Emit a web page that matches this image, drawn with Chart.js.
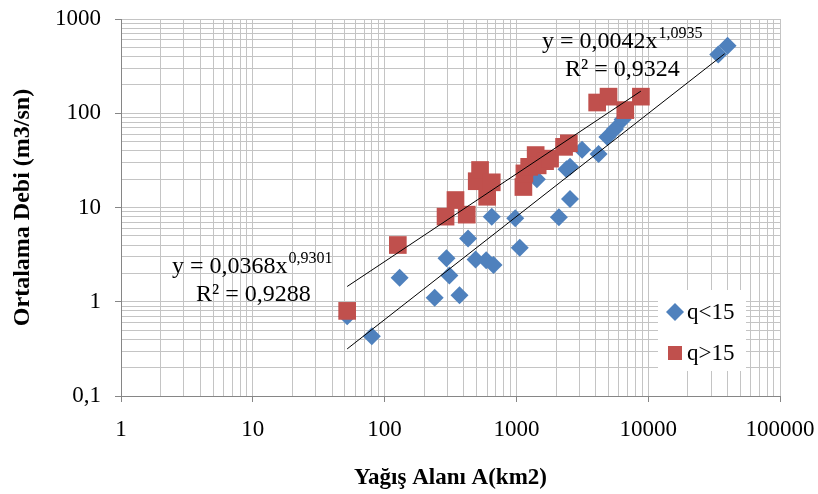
<!DOCTYPE html>
<html>
<head>
<meta charset="utf-8">
<script src="https://cdn.jsdelivr.net/npm/chart.js@4.4.1/dist/chart.umd.min.js"></script>
<style>
	html, body { margin: 0; padding: 0; background: #fff; }
	#wrap { width: 818px; height: 494px; }
</style>
</head>
<body>
<div id="wrap"><canvas id="chart" width="818" height="494"></canvas></div>
<script>
// log axes: decades and the labels printed on them
const xDecades = [1, 10, 100, 1000, 10000, 100000];
const xTickLabels = ['1', '10', '100', '1000', '10000', '100000'];
const yDecades = [0.1, 1, 10, 100, 1000];
const yTickLabels = ['0,1', '1', '10', '100', '1000'];

// q<15 stations: area (km2) and mean flow (m3/sn)
const areaLow = [52, 80, 130, 240, 295, 310, 370, 430, 490, 590, 670, 650, 980, 1060, 1430, 2100, 2550, 2400, 2550, 3150, 4200, 4900, 5600, 6400, 34000, 40000];
const flowLow = [0.7, 0.43, 1.8, 1.1, 2.9, 1.9, 1.17, 4.7, 2.8, 2.75, 2.45, 8, 7.7, 3.75, 20, 7.9, 12.3, 25.5, 27, 41, 37, 56, 68, 86, 420, 520];

// q>15 stations
const areaHigh = [52, 126, 290, 345, 420, 500, 530, 600, 650, 1130, 1150, 1250, 1400, 1450, 1650, 1800, 2300, 2500, 4100, 5000, 6700, 8800];
const flowHigh = [0.8, 4.0, 8, 12, 8.4, 19, 25, 13, 18.5, 16.5, 23, 27, 36, 28, 31, 33, 44, 48, 130, 150, 108, 150];

// power trendlines y = a * x^b
const fitHigh = [0.0368, 0.9301];
const fitHighR2 = 0.9288;
const fitHighRange = [52, 8800];
const fitLow = [0.0042, 1.0935];
const fitLowR2 = 0.9324;
const fitLowRange = [52, 38000];

const seriesNames = ['q<15', 'q>15'];
const blue = '#4F81BD';
const red = '#C0504D';
const serif = '"Liberation Serif", "Times New Roman", serif';

const toPoints = (xs, ys) => xs.map((x, i) => ({ x, y: ys[i] }));
const fitPoints = (coef, range) => range.map((x) => ({ x, y: coef[0] * Math.pow(x, coef[1]) }));
const comma = (v) => String(v).replace('.', ',');

const buildTicks = (decades) => (scale) => {
	const ticks = [];
	decades.slice(0, -1).forEach((d) => {
		for (let m = 1; m <= 9; m += 1) {
			ticks.push({ value: Number((d * m).toPrecision(6)) });
		}
	});
	ticks.push({ value: decades[decades.length - 1] });
	scale.ticks = ticks;
};

const decadeLabel = (decades, labels) => (value) => {
	const i = decades.indexOf(value);
	return i >= 0 ? labels[i] : '';
};

const majorTick = (decades) => (ctx) => (ctx.tick && decades.includes(ctx.tick.value) ? '#868686' : 'rgba(0,0,0,0)');

// let the layout padding alone decide where the plot area sits
const noOverflow = (scale) => {
	scale.paddingLeft = 0;
	scale.paddingRight = 0;
	scale.paddingTop = 0;
	scale.paddingBottom = 0;
};

// equation labels and the boxed legend
const annotations = {
	id: 'annotations',
	afterDraw(chart) {
		const ctx = chart.ctx;
		ctx.save();
		ctx.fillStyle = '#000';
		ctx.textBaseline = 'middle';
		ctx.textAlign = 'left';

		const equation = (coef, r2, x, y, rx) => {
			ctx.font = `24px ${serif}`;
			const base = `y = ${comma(coef[0])}x`;
			ctx.fillText(base, x, y);
			const w = ctx.measureText(base).width;
			ctx.font = `16px ${serif}`;
			ctx.fillText(comma(coef[1]), x + w + 1, y - 8);
			ctx.font = `24px ${serif}`;
			ctx.fillText(`R² = ${comma(r2)}`, rx, y + 28);
		};
		equation(fitHigh, fitHighR2, 172, 267, 196);
		equation(fitLow, fitLowR2, 542, 42, 565);

		// legend box
		ctx.fillStyle = '#fff';
		ctx.fillRect(658, 290, 88, 81);
		ctx.fillStyle = blue;
		ctx.beginPath();
		ctx.moveTo(675, 303);
		ctx.lineTo(684, 312);
		ctx.lineTo(675, 321);
		ctx.lineTo(666, 312);
		ctx.closePath();
		ctx.fill();
		ctx.fillStyle = red;
		ctx.fillRect(668, 346, 14, 14);
		ctx.fillStyle = '#000';
		ctx.font = `23px ${serif}`;
		ctx.fillText(seriesNames[0], 687, 313);
		ctx.fillText(seriesNames[1], 687, 354);
		ctx.restore();
	},
};

new Chart(document.getElementById('chart'), {
	type: 'scatter',
	data: {
		datasets: [
			{
				type: 'line',
				data: fitPoints(fitHigh, fitHighRange),
				borderColor: '#000',
				borderWidth: 1,
				pointRadius: 0,
				fill: false,
			},
			{
				type: 'line',
				data: fitPoints(fitLow, fitLowRange),
				borderColor: '#000',
				borderWidth: 1,
				pointRadius: 0,
				fill: false,
			},
			{
				label: seriesNames[1],
				data: toPoints(areaHigh, flowHigh),
				pointStyle: 'rect',
				pointRadius: 12.5,
				backgroundColor: red,
				borderWidth: 0,
			},
			{
				label: seriesNames[0],
				data: toPoints(areaLow, flowLow),
				pointStyle: 'rectRot',
				pointRadius: 9,
				backgroundColor: blue,
				borderWidth: 0,
			},
		],
	},
	options: {
		responsive: false,
		animation: false,
		events: [],
		devicePixelRatio: 1,
		layout: { padding: { top: 19, right: 38, left: 0, bottom: 0 } },
		plugins: {
			legend: { display: false },
			tooltip: { enabled: false },
		},
		scales: {
			x: {
				type: 'logarithmic',
				min: 1,
				max: 100000,
				afterBuildTicks: buildTicks(xDecades),
				afterFit: (scale) => {
					scale.height = 98;
					noOverflow(scale);
				},
				grid: { color: '#c4c4c4', lineWidth: 1, tickLength: 6, tickColor: majorTick(xDecades) },
				border: { color: '#868686' },
				ticks: {
					autoSkip: false,
					maxRotation: 0,
					padding: 14,
					color: '#000',
					font: { family: serif, size: 23 },
					callback: decadeLabel(xDecades, xTickLabels),
				},
				title: {
					display: true,
					text: 'Yağış Alanı A(km2)',
					color: '#000',
					font: { family: serif, size: 23, weight: 'bold' },
					padding: { top: 0, bottom: 2 },
				},
			},
			y: {
				type: 'logarithmic',
				min: 0.1,
				max: 1000,
				afterBuildTicks: buildTicks(yDecades),
				afterFit: (scale) => {
					scale.width = 121;
					noOverflow(scale);
				},
				grid: { color: '#c4c4c4', lineWidth: 1, tickLength: 6, tickColor: majorTick(yDecades) },
				border: { color: '#868686' },
				ticks: {
					autoSkip: false,
					padding: 14,
					color: '#000',
					font: { family: serif, size: 23 },
					callback: decadeLabel(yDecades, yTickLabels),
				},
				title: {
					display: true,
					text: 'Ortalama Debi (m3/sn)',
					color: '#000',
					font: { family: serif, size: 24, weight: 'bold' },
					padding: { top: 8, bottom: 0 },
				},
			},
		},
	},
	plugins: [annotations],
});
</script>
</body>
</html>
